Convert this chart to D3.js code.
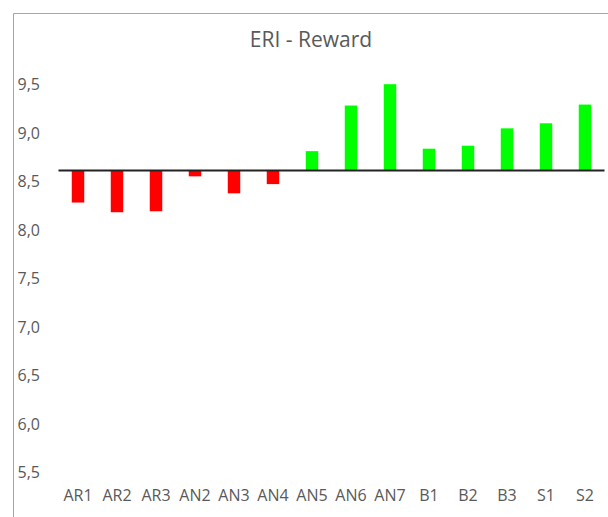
<!DOCTYPE html>
<html>
<head>
<meta charset="utf-8">
<script src="https://cdn.jsdelivr.net/npm/d3@7"></script>
<style>
  body { margin: 0; background: #fff; }
  svg { display: block; font-family: "Open Sans", sans-serif; }
</style>
</head>
<body>
<div id="chart"></div>
<script>
const title = 'ERI - Reward'
const categories = ['AR1', 'AR2', 'AR3', 'AN2', 'AN3', 'AN4', 'AN5', 'AN6', 'AN7', 'B1', 'B2', 'B3', 'S1', 'S2']
const values = [8.28, 8.18, 8.19, 8.55, 8.375, 8.47, 8.81, 9.28, 9.50, 8.835, 8.866, 9.045, 9.097, 9.29]
const baseline = 8.61
const yTicks = [5.5, 6.0, 6.5, 7.0, 7.5, 8.0, 8.5, 9.0, 9.5]

const W = 608, H = 517
const textColor = '#595959'

const svg = d3.select('#chart').append('svg')
    .attr('width', W)
    .attr('height', H)

// chart area border (cropped on right and bottom)
svg.append('path')
    .attr('d', `M13.5,${H}V13.5H${W}`)
    .attr('fill', 'none')
    .attr('stroke', '#a6a6a6')
    .attr('stroke-width', 1)

const x = d3.scaleBand()
    .domain(categories)
    .range([58.5, 604.5])
    .paddingInner(0.68)
    .paddingOuter(0.34)

const y = d3.scaleLinear()
    .domain([5, 10])
    .range([520.7, 35.7])

const fmt = d3.formatLocale({ decimal: ',', thousands: '.', grouping: [3], currency: ['', ''] }).format('.1f')

svg.append('text')
    .attr('x', 311)
    .attr('y', 47)
    .attr('text-anchor', 'middle')
    .attr('fill', textColor)
    .style('font-size', '21px')
    .text(title)

// bars grow from the crossing value
svg.append('g').selectAll('rect')
    .data(values)
    .join('rect')
    .attr('x', (d, i) => x(categories[i]))
    .attr('width', x.bandwidth())
    .attr('y', d => y(Math.max(d, baseline)))
    .attr('height', d => Math.abs(y(d) - y(baseline)))
    .attr('fill', d => d < baseline ? '#ff0000' : '#00ff00')

svg.append('line')
    .attr('x1', 58.5)
    .attr('x2', 604.5)
    .attr('y1', y(baseline))
    .attr('y2', y(baseline))
    .attr('stroke', '#222')
    .attr('stroke-width', 2)

const yAxis = svg.append('g')
    .attr('transform', 'translate(40,0)')
    .call(d3.axisLeft(y).tickValues(yTicks).tickFormat(fmt).tickSize(0).tickPadding(0))
yAxis.select('.domain').remove()
yAxis.selectAll('text')
    .attr('dy', '0.36em')
    .attr('fill', textColor)
    .style('font-size', '16px')
    .style('font-family', '"Open Sans", sans-serif')

const xAxis = svg.append('g')
    .attr('transform', 'translate(0,489.3)')
    .call(d3.axisBottom(x).tickSize(0).tickPadding(0))
xAxis.select('.domain').remove()
xAxis.selectAll('text')
    .attr('fill', textColor)
    .style('font-size', '16px')
    .style('font-family', '"Open Sans", sans-serif')
</script>
</body>
</html>
